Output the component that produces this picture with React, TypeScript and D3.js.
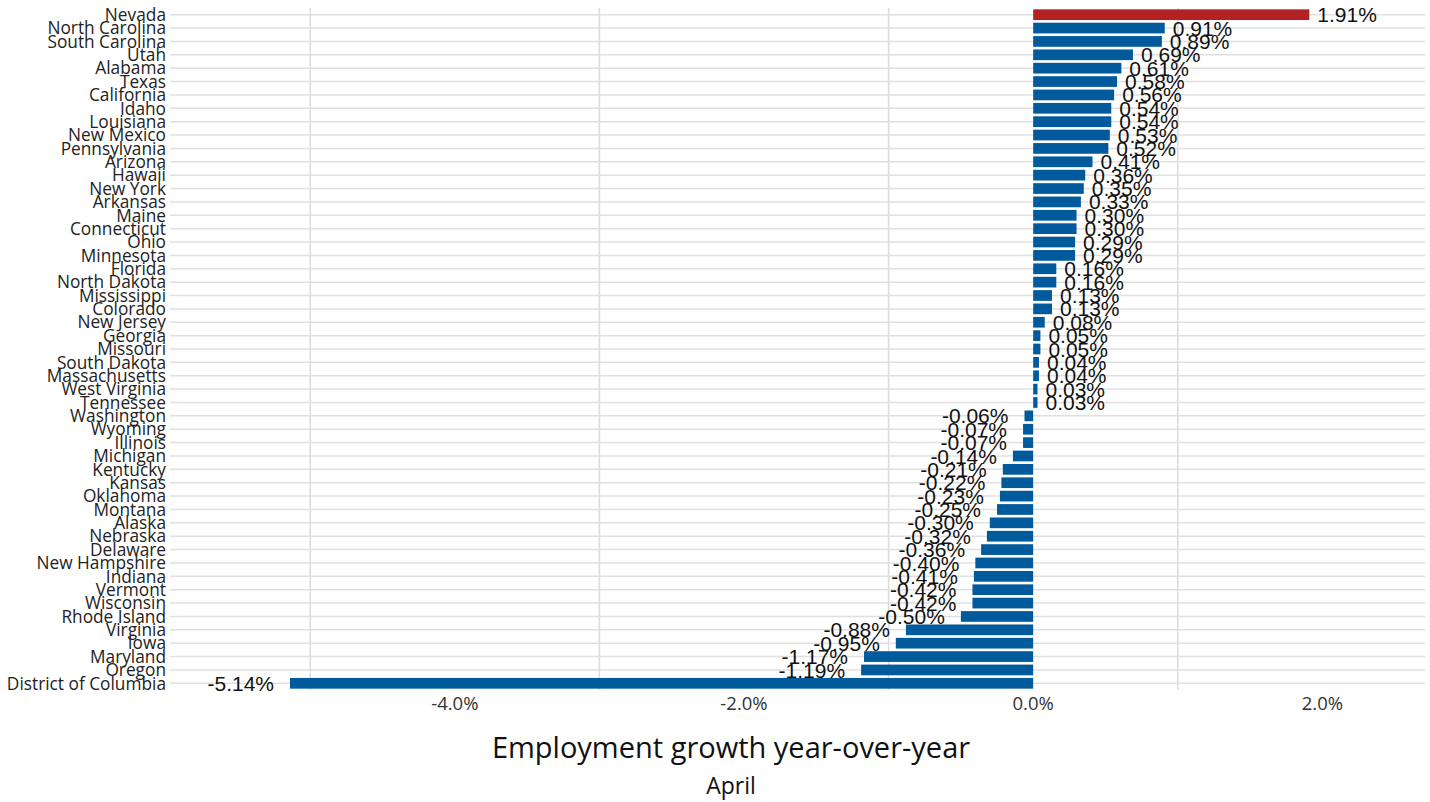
import React from "react";
import * as d3 from "d3";

const states = [
  "Nevada", "North Carolina", "South Carolina", "Utah", "Alabama", "Texas", "California", "Idaho",
  "Louisiana", "New Mexico", "Pennsylvania", "Arizona", "Hawaii", "New York", "Arkansas", "Maine",
  "Connecticut", "Ohio", "Minnesota", "Florida", "North Dakota", "Mississippi", "Colorado", "New Jersey",
  "Georgia", "Missouri", "South Dakota", "Massachusetts", "West Virginia", "Tennessee", "Washington",
  "Wyoming", "Illinois", "Michigan", "Kentucky", "Kansas", "Oklahoma", "Montana", "Alaska", "Nebraska",
  "Delaware", "New Hampshire", "Indiana", "Vermont", "Wisconsin", "Rhode Island", "Virginia", "Iowa",
  "Maryland", "Oregon", "District of Columbia",
];

const growth = [
  1.91, 0.91, 0.89, 0.69, 0.61, 0.58, 0.56, 0.54,
  0.54, 0.53, 0.52, 0.41, 0.36, 0.35, 0.33, 0.30,
  0.30, 0.29, 0.29, 0.16, 0.16, 0.13, 0.13, 0.08,
  0.05, 0.05, 0.04, 0.04, 0.03, 0.03, -0.06,
  -0.07, -0.07, -0.14, -0.21, -0.22, -0.23, -0.25, -0.30, -0.32,
  -0.36, -0.40, -0.41, -0.42, -0.42, -0.50, -0.88, -0.95,
  -1.17, -1.19, -5.14,
];

const highlight = ["Nevada"];
const majorTicks = [-4, -2, 0, 2];
const minorGrid = [-5, -3, -1, 1];
const titleText = "Employment growth year-over-year";
const subtitleText = "April";

export default function App() {
  const W = 1430;
  const H = 802;
  const left = 170, right = 1425, top = 8, bottom = 690;

  const x = d3.scaleLinear().domain([-5.97, 2.71]).range([left, right]);
  const y = d3.scaleBand<string>().domain(states).range([top, bottom]).paddingInner(0.2).paddingOuter(0.1);
  const bw = y.bandwidth();
  const fmt = (v: number) => `${v.toFixed(2)}%`;
  const tickFmt = (v: number) => `${v.toFixed(1)}%`;

  return (
    <svg width={W} height={H} style={{ position: "absolute", left: 0, top: 0, background: "#fff" }}>
      {minorGrid.map((g) => (
        <line key={"v" + g} x1={x(g)} x2={x(g)} y1={top} y2={bottom} stroke="#dcdcdc" strokeWidth={1.6} />
      ))}
      {states.map((s) => {
        const cy = (y(s) as number) + bw / 2;
        return <line key={"h" + s} x1={left} x2={right} y1={cy} y2={cy} stroke="#e0e0e0" strokeWidth={1.5} />;
      })}
      {states.map((s, i) => {
        const v = growth[i];
        const x0 = Math.min(x(0), x(v));
        const w = Math.abs(x(v) - x(0));
        return (
          <rect
            key={"b" + s}
            x={x0}
            y={y(s) as number}
            width={Math.max(w, 0.6)}
            height={bw}
            fill={highlight.includes(s) ? "#b22222" : "#015a9c"}
          />
        );
      })}
      {states.map((s, i) => {
        const v = growth[i];
        const cy = (y(s) as number) + bw / 2;
        return (
          <text
            key={"l" + s}
            x={v >= 0 ? x(v) + 8 : x(v) - 16}
            y={cy}
            dy="0.36em"
            textAnchor={v >= 0 ? "start" : "end"}
            fontFamily="'Liberation Sans', Arial, sans-serif"
            fontSize={21}
            fill="#111"
          >
            {fmt(v)}
          </text>
        );
      })}
      {states.map((s) => {
        const cy = (y(s) as number) + bw / 2;
        return (
          <text
            key={"s" + s}
            x={166}
            y={cy}
            dy="0.36em"
            textAnchor="end"
            fontFamily="'Open Sans', sans-serif"
            fontSize={17.3}
            fill="#222"
          >
            {s}
          </text>
        );
      })}
      {majorTicks.map((t) => (
        <text
          key={"t" + t}
          x={x(t)}
          y={703}
          dy="0.36em"
          textAnchor="middle"
          fontFamily="'Open Sans', sans-serif"
          fontSize={18.5}
          fill="#333"
        >
          {tickFmt(t)}
        </text>
      ))}
      <text x={731} y={758} textAnchor="middle" fontFamily="'Open Sans', sans-serif" fontSize={29} fill="#111">
        {titleText}
      </text>
      <text x={731} y={794} textAnchor="middle" fontFamily="'Open Sans', sans-serif" fontSize={23} fill="#111">
        {subtitleText}
      </text>
    </svg>
  );
}
